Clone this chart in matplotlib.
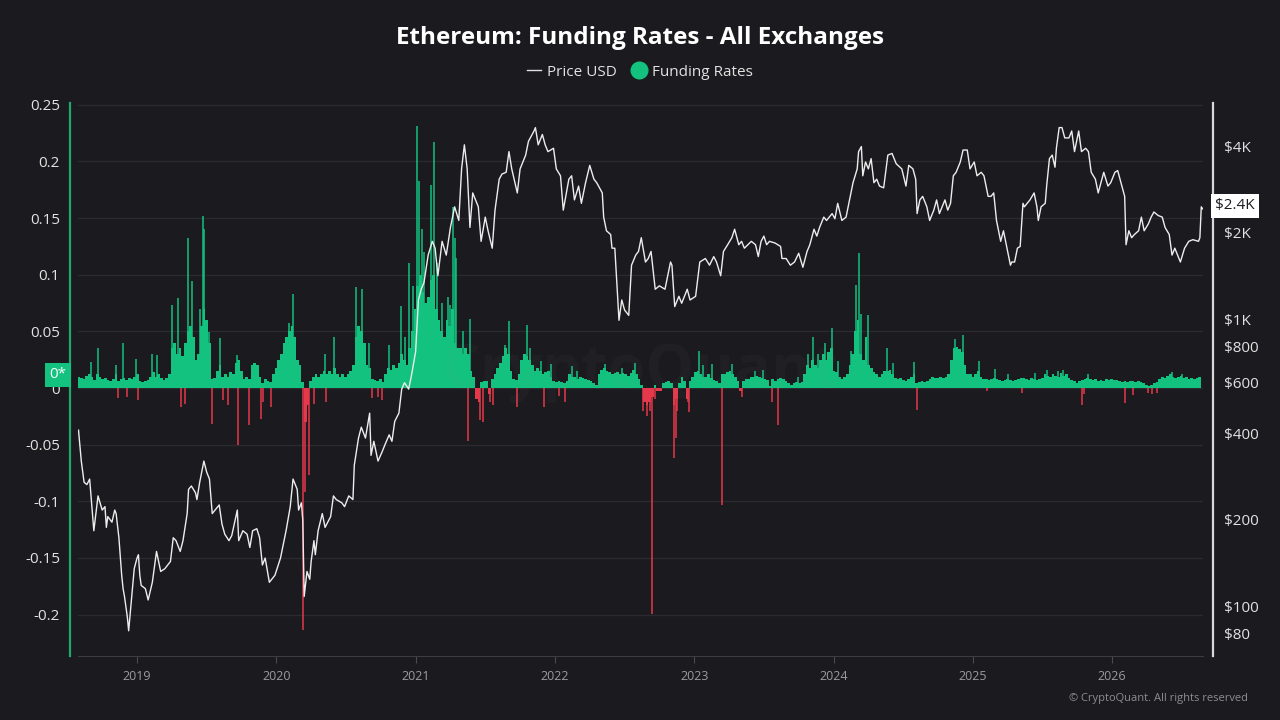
import matplotlib
matplotlib.use('Agg')
import matplotlib.pyplot as plt
from matplotlib.lines import Line2D
from matplotlib.ticker import NullLocator
import numpy as np

plt.rcParams['font.family'] = ['Open Sans', 'DejaVu Sans']

# ETH price (USD), decimal years
price_t = [
    2018.58, 2018.60, 2018.62, 2018.64, 2018.66, 2018.69, 2018.72, 2018.75, 2018.77, 2018.78,
    2018.79, 2018.82, 2018.84, 2018.85, 2018.87, 2018.89, 2018.90, 2018.91, 2018.93, 2018.94,
    2018.96, 2018.98, 2019.00, 2019.01, 2019.02, 2019.03, 2019.06, 2019.08, 2019.11, 2019.13,
    2019.14, 2019.17, 2019.20, 2019.24, 2019.26, 2019.28, 2019.31, 2019.33, 2019.36, 2019.37,
    2019.39, 2019.42, 2019.43, 2019.45, 2019.48, 2019.50, 2019.52, 2019.54, 2019.56, 2019.59,
    2019.61, 2019.63, 2019.66, 2019.68, 2019.72, 2019.73, 2019.76, 2019.79, 2019.81, 2019.83,
    2019.86, 2019.88, 2019.90, 2019.92, 2019.95, 2019.99, 2020.03, 2020.05, 2020.07, 2020.10,
    2020.12, 2020.15, 2020.16, 2020.18, 2020.19, 2020.20, 2020.22, 2020.24, 2020.25, 2020.27,
    2020.28, 2020.30, 2020.33, 2020.35, 2020.39, 2020.41, 2020.43, 2020.47, 2020.49, 2020.52,
    2020.55, 2020.56, 2020.59, 2020.61, 2020.64, 2020.67, 2020.68, 2020.70, 2020.73, 2020.76,
    2020.78, 2020.81, 2020.83, 2020.85, 2020.88, 2020.90, 2020.92, 2020.95, 2020.97, 2021.00,
    2021.02, 2021.04, 2021.06, 2021.09, 2021.12, 2021.14, 2021.16, 2021.19, 2021.22, 2021.25,
    2021.28, 2021.31, 2021.33, 2021.35, 2021.37, 2021.39, 2021.41, 2021.45, 2021.47, 2021.50,
    2021.52, 2021.55, 2021.57, 2021.60, 2021.62, 2021.65, 2021.67, 2021.69, 2021.73, 2021.75,
    2021.79, 2021.81, 2021.85, 2021.86, 2021.88, 2021.91, 2021.93, 2021.95, 2021.99, 2022.01,
    2022.04, 2022.06, 2022.10, 2022.12, 2022.14, 2022.17, 2022.19, 2022.22, 2022.25, 2022.28,
    2022.30, 2022.34, 2022.35, 2022.37, 2022.40, 2022.41, 2022.43, 2022.45, 2022.46, 2022.48,
    2022.50, 2022.53, 2022.55, 2022.58, 2022.60, 2022.62, 2022.65, 2022.67, 2022.69, 2022.72,
    2022.75, 2022.79, 2022.83, 2022.84, 2022.86, 2022.89, 2022.91, 2022.95, 2022.97, 2023.01,
    2023.04, 2023.08, 2023.11, 2023.14, 2023.16, 2023.19, 2023.21, 2023.24, 2023.27, 2023.29,
    2023.32, 2023.34, 2023.36, 2023.41, 2023.44, 2023.46, 2023.48, 2023.50, 2023.52, 2023.54,
    2023.58, 2023.62, 2023.63, 2023.66, 2023.69, 2023.72, 2023.75, 2023.78, 2023.81, 2023.83,
    2023.86, 2023.88, 2023.90, 2023.93, 2023.95, 2023.99, 2024.01, 2024.03, 2024.06, 2024.09,
    2024.12, 2024.14, 2024.17, 2024.18, 2024.20, 2024.21, 2024.23, 2024.25, 2024.27, 2024.29,
    2024.31, 2024.33, 2024.36, 2024.39, 2024.42, 2024.45, 2024.49, 2024.52, 2024.54, 2024.57,
    2024.59, 2024.60, 2024.62, 2024.64, 2024.67, 2024.69, 2024.72, 2024.74, 2024.76, 2024.80,
    2024.82, 2024.84, 2024.86, 2024.88, 2024.91, 2024.93, 2024.96, 2024.98, 2025.01, 2025.03,
    2025.06, 2025.08, 2025.11, 2025.13, 2025.15, 2025.17, 2025.20, 2025.22, 2025.24, 2025.27,
    2025.28, 2025.30, 2025.32, 2025.34, 2025.36, 2025.37, 2025.41, 2025.44, 2025.46, 2025.47,
    2025.49, 2025.52, 2025.53, 2025.55, 2025.57, 2025.59, 2025.60, 2025.62, 2025.64, 2025.66,
    2025.69, 2025.71, 2025.73, 2025.76, 2025.78, 2025.81, 2025.83, 2025.85, 2025.88, 2025.90,
    2025.92, 2025.94, 2025.97, 2025.99, 2026.02, 2026.04, 2026.07, 2026.09, 2026.10, 2026.12,
    2026.14, 2026.16, 2026.19, 2026.21, 2026.23, 2026.26, 2026.28, 2026.30, 2026.33, 2026.36,
    2026.38, 2026.41, 2026.43, 2026.45, 2026.47, 2026.49, 2026.52, 2026.55, 2026.58, 2026.62,
    2026.63, 2026.64, 2026.65,
]
price_usd = [
    410, 320, 270, 265, 277, 183, 242, 216, 222, 188,
    205, 196, 216, 210, 173, 128, 115, 108, 92, 82,
    105, 135, 147, 151, 128, 118, 115, 105, 121, 143,
    155, 132, 135, 143, 173, 169, 155, 169, 210, 255,
    262, 248, 235, 270, 320, 293, 277, 210, 216, 225,
    193, 178, 169, 176, 216, 169, 183, 178, 160, 183,
    186, 173, 139, 147, 121, 128, 147, 164, 183, 222,
    277, 255, 216, 229, 199, 108, 132, 124, 143, 169,
    151, 183, 210, 188, 205, 242, 235, 229, 222, 242,
    235, 310, 385, 420, 385, 470, 335, 375, 320, 345,
    365, 395, 375, 440, 470, 570, 600, 570, 635, 770,
    1165, 1270, 1340, 1670, 1865, 1765, 1415, 1865, 1670, 2085,
    2460, 2205, 3335, 4045, 3335, 2085, 2750, 2460, 1865, 2265,
    2030, 1765, 2395, 3070, 3200, 3245, 3830, 3335, 2750, 3335,
    3725, 4160, 4520, 4645, 4045, 4395, 4045, 3830, 3935, 3335,
    3155, 2395, 3070, 3155, 2600, 2905, 2530, 2985, 3430, 3070,
    2985, 2750, 2265, 2030, 1970, 1765, 1765, 1200, 990, 1165,
    1075, 1030, 1540, 1670, 1720, 1920, 1580, 1625, 1720, 1270,
    1305, 1270, 1580, 1540, 1105, 1200, 1135, 1270, 1165, 1200,
    1580, 1625, 1540, 1650, 1580, 1415, 1720, 1815, 1920, 2055,
    1815, 1865, 1765, 1865, 1815, 1650, 1865, 1945, 1815, 1865,
    1840, 1790, 1625, 1625, 1540, 1580, 1695, 1515, 1720, 1815,
    2055, 1945, 2085, 2265, 2205, 2330, 2235, 2530, 2205, 2265,
    2675, 2985, 3335, 3830, 3990, 3155, 3525, 3335, 3620, 2985,
    3070, 2905, 2865, 3725, 3775, 3475, 3335, 2905, 3430, 3335,
    3070, 2330, 2600, 2675, 2460, 2205, 2395, 2600, 2330, 2600,
    2395, 2530, 3155, 3245, 3525, 3880, 3880, 3335, 3525, 3155,
    3245, 3155, 2675, 2675, 2750, 2205, 1865, 2030, 1815, 1540,
    1580, 1580, 1765, 1790, 2530, 2460, 2600, 2750, 2460, 2205,
    2460, 2530, 2905, 3620, 3725, 3380, 3935, 4645, 4645, 4275,
    4275, 4520, 3830, 4520, 3830, 3935, 3830, 3245, 3070, 2750,
    2985, 3245, 2905, 2985, 3245, 3290, 2905, 2675, 1815, 2030,
    1920, 1970, 2030, 2265, 2030, 2145, 2265, 2360, 2295, 2265,
    2085, 1970, 1670, 1765, 1670, 1580, 1765, 1865, 1890, 1865,
    1920, 2460, 2420,
]

# funding rate, weekly typical level from 2018.58 on
funding_start = 2018.58
funding_weekly = [
    0.010, 0.009, 0.008, 0.011, 0.012, 0.010, 0.007, 0.012, 0.010, 0.008,
    0.009, 0.007, 0.006, 0.008, 0.012, 0.006, 0.008, 0.009, 0.007, 0.009,
    0.008, 0.010, 0.012, 0.006, 0.005, 0.006, 0.007, 0.010, 0.014, 0.010,
    0.012, 0.009, 0.007, 0.009, 0.012, 0.035, 0.040, 0.030, 0.035, 0.028,
    0.040, 0.050, 0.055, 0.045, 0.025, 0.030, 0.055, 0.070, 0.060, 0.040,
    0.008, 0.009, 0.015, 0.020, 0.010, 0.012, 0.010, 0.014, 0.012, 0.022,
    0.025, 0.015, 0.008, 0.010, 0.008, 0.020, 0.022, 0.020, 0.010, 0.004,
    0.008,
    0.006, 0.005, 0.012, 0.018, 0.025, 0.030, 0.040, 0.045, 0.050, 0.055,
    0.045, 0.025, 0.020, 0.005, -0.030, -0.015, 0.006, 0.010, 0.012, 0.010,
    0.012, 0.015, 0.012, 0.015, 0.012, 0.018, 0.012, 0.010, 0.012, 0.010,
    0.012, 0.015, 0.020, 0.045, 0.055, 0.050, 0.040, 0.020, 0.018, 0.008,
    0.007, 0.006, 0.008, 0.005, 0.012, 0.018, 0.016, 0.020, 0.018, 0.022,
    0.030, 0.025, 0.020, 0.035, 0.050, 0.070, 0.090, 0.100, 0.085, 0.075,
    0.080, 0.095, 0.100, 0.070, 0.060, 0.050, 0.045, 0.060, 0.055, 0.070,
    0.040, 0.035, 0.035, 0.030, 0.035, 0.030, 0.015, 0.010, -0.010, -0.012,
    0.005, 0.006, 0.006, -0.005, 0.008, 0.012, 0.018, 0.022, 0.028, 0.035,
    0.030, 0.015, 0.008, 0.007, 0.012, 0.025, 0.030, 0.028, 0.025, 0.020,
    0.015, 0.018, 0.015, 0.012, 0.014, 0.015, 0.010, 0.006, 0.005, 0.006,
    0.005, 0.004, 0.006, 0.012, 0.010, 0.010, 0.008, 0.010, 0.009, 0.008,
    0.007, 0.006, 0.004, 0.003, 0.012, 0.016, 0.018, 0.015, 0.014, 0.012,
    0.013, 0.014, 0.012, 0.013, 0.012, 0.011, 0.013, 0.016, 0.012, 0.008,
    0.003,
    -0.012, -0.015, -0.012, -0.008, 0.003, -0.003, -0.003, 0.004, 0.005, 0.006,
    0.004, -0.015, -0.010, 0.004, 0.010, 0.006, -0.010, 0.006, 0.010, 0.014,
    0.015, 0.012, 0.010, 0.010, 0.012, 0.009, 0.007, 0.006, 0.004, 0.012,
    0.012, 0.014, 0.015, 0.012, 0.010, 0.006, -0.003, 0.006, 0.008, 0.008,
    0.010, 0.010, 0.011, 0.010, 0.009, 0.008, 0.007, 0.002, 0.008, 0.006,
    0.008, 0.009, 0.008, 0.006, 0.004, 0.003, 0.004, 0.005, 0.004, 0.005,
    0.012, 0.020, 0.018, 0.025, 0.020, 0.018, 0.025, 0.030, 0.025, 0.032,
    0.035,
    0.015, 0.014, 0.010, 0.008, 0.010, 0.012, 0.020, 0.030, 0.050, 0.060,
    0.030, 0.025, 0.045, 0.020, 0.018, 0.014, 0.012, 0.010, 0.012, 0.015,
    0.015, 0.016, 0.012, 0.009, 0.008, 0.009, 0.007, 0.006, 0.008, 0.010,
    0.012, 0.004, 0.005, 0.006, 0.005, 0.006, 0.008, 0.010, 0.009, 0.009,
    0.010, 0.009, 0.010, 0.012, 0.025, 0.035, 0.036, 0.034, 0.032, 0.020,
    0.012, 0.012, 0.010, 0.012, 0.015, 0.010, 0.008, 0.008, 0.007, 0.008,
    0.009, 0.008, 0.007, 0.006, 0.007, 0.008, 0.007, 0.006, 0.007, 0.008,
    0.009,
    0.009, 0.008, 0.007, 0.009, 0.008, 0.007, 0.008, 0.009, 0.012, 0.011,
    0.010, 0.012, 0.011, 0.010, 0.013, 0.011, 0.012, 0.009, 0.007, 0.006,
    0.004, 0.006, 0.007, 0.008, 0.009, 0.008, 0.007, 0.008, 0.006, 0.007,
    0.006, 0.008, 0.007, 0.008, 0.007, 0.007, 0.006, 0.005, 0.006, 0.005,
    0.006, 0.006, 0.005, 0.006, 0.005, 0.004, 0.003, 0.002, 0.003, 0.004,
    0.005, 0.008, 0.010, 0.009, 0.011, 0.012, 0.010, 0.009, 0.010, 0.011,
    0.009, 0.010, 0.008, 0.009, 0.008, 0.009, 0.010,
]

# single-day funding spikes
spike_t = [
    2018.667, 2018.718, 2018.847, 2018.897, 2018.993, 2019.105, 2019.146, 2019.254,
    2019.297, 2019.369, 2019.397, 2019.452, 2019.472, 2019.484, 2019.517, 2019.596,
    2019.716, 2019.847, 2018.866, 2018.931, 2019.010, 2019.316, 2019.345, 2019.536,
    2019.620, 2019.656, 2019.728, 2019.807, 2019.890, 2019.907,
    2019.960, 2020.091, 2020.120, 2020.194, 2020.206, 2020.232, 2020.273, 2020.350,
    2020.357, 2020.417, 2020.572, 2020.618, 2020.668, 2020.685, 2020.728, 2020.757,
    2020.809, 2020.895, 2020.924, 2020.955, 2020.979, 2021.008, 2021.027, 2021.044,
    2021.063, 2021.108, 2021.132, 2021.151, 2021.187, 2021.230, 2021.247, 2021.271,
    2021.283, 2021.290, 2021.343, 2021.379, 2021.391, 2021.462, 2021.486, 2021.534,
    2021.558, 2021.642, 2021.673, 2021.731, 2021.802, 2021.821, 2021.900, 2021.924,
    2021.972, 2022.030, 2022.073, 2022.121, 2022.156, 2022.360, 2022.480, 2022.575,
    2022.635,
    2022.659, 2022.683, 2022.700, 2022.719, 2022.858, 2022.870, 2022.879, 2022.953,
    2022.965, 2023.037, 2023.066, 2023.126, 2023.197, 2023.274, 2023.346, 2023.437,
    2023.497, 2023.556, 2023.604, 2023.743, 2023.815, 2023.855, 2023.891, 2023.939,
    2023.987,
    2024.030, 2024.126, 2024.164, 2024.181, 2024.195, 2024.250, 2024.387, 2024.430,
    2024.581, 2024.602, 2024.873, 2024.932, 2025.047, 2025.100, 2025.160, 2025.255,
    2025.351,
    2025.447, 2025.531, 2025.614, 2025.650, 2025.782, 2025.801, 2025.830, 2026.093,
    2026.153, 2026.260, 2026.289, 2026.320, 2026.428, 2026.500,
]
spike_rate = [
    0.023, 0.035, 0.020, 0.040, 0.026, 0.030, 0.029, 0.073,
    0.079, 0.132, 0.094, 0.070, 0.152, 0.140, 0.049, 0.044,
    0.029, 0.020, -0.009, -0.008, -0.011, -0.017, -0.014, -0.032,
    -0.011, -0.015, -0.050, -0.033, -0.027, -0.012,
    -0.017, 0.057, 0.083, -0.214, -0.092, -0.077, -0.014, 0.030,
    -0.012, 0.045, 0.089, 0.087, 0.040, -0.009, -0.008, -0.011,
    0.038, 0.072, 0.045, 0.110, 0.090, 0.231, 0.183, 0.140,
    0.120, 0.179, 0.217, 0.110, 0.075, 0.080, 0.073, 0.160,
    0.132, 0.115, 0.050, -0.047, 0.061, -0.028, -0.030, -0.012,
    -0.015, 0.038, 0.059, -0.017, 0.056, 0.035, 0.024, -0.017,
    0.021, -0.007, -0.012, 0.019, 0.015, 0.021, 0.018, 0.022,
    -0.020,
    -0.025, -0.020, -0.199, -0.010, -0.062, -0.044, -0.020, -0.012,
    -0.021, 0.033, 0.020, 0.021, -0.103, 0.021, -0.008, 0.015,
    0.016, -0.012, -0.033, 0.010, 0.030, 0.045, 0.030, 0.040,
    0.053,
    0.024, 0.033, 0.091, 0.119, 0.065, 0.064, 0.035, 0.022,
    0.023, -0.019, 0.043, 0.047, 0.024, -0.003, 0.017, 0.012,
    -0.004,
    0.013, 0.016, 0.015, 0.016, -0.015, -0.005, 0.012, -0.013,
    -0.006, -0.004, -0.005, -0.004, 0.014, 0.012,
]

year_ticks = [2019, 2020, 2021, 2022, 2023, 2024, 2025, 2026]
rate_ticks = [0.25, 0.2, 0.15, 0.1, 0.05, 0, -0.05, -0.1, -0.15, -0.2]
rate_labels = ['0.25', '0.2', '0.15', '0.1', '0.05', '0', '-0.05', '-0.1', '-0.15', '-0.2']
price_ticks = [80, 100, 200, 400, 600, 800, 1000, 2000, 4000]
price_labels = ['$80', '$100', '$200', '$400', '$600', '$800', '$1K', '$2K', '$4K']

BG = '#1b1b1f'
GREEN = '#13c27f'
RED = '#e6384b'
week = 7 / 365.25

fig = plt.figure(figsize=(12.8, 7.2), dpi=100, facecolor=BG)
ax = fig.add_axes([0.0609, 0.0889, 0.8789, 0.768])
ax.set_facecolor(BG)

wk_t = funding_start + np.arange(len(funding_weekly)) * week
fw = np.array(funding_weekly)
ax.bar(wk_t, fw, width=week, color=np.where(fw >= 0, GREEN, RED), linewidth=0, zorder=2)
sv = np.array(spike_rate)
ax.vlines(spike_t, 0, sv, colors=np.where(sv >= 0, GREEN, RED), linewidth=1.1, zorder=2)

ax.set_xlim(2018.576, 2026.652)
ax.set_ylim(-0.2365, 0.2515)
ax.set_yticks(rate_ticks)
ax.set_yticklabels(rate_labels)
ax.set_xticks(year_ticks)
ax.set_xticklabels([str(y) for y in year_ticks])
ax.grid(axis='y', color='#2a2a30', linewidth=0.9, zorder=0)
ax.set_axisbelow(True)
ax.tick_params(axis='y', length=0, pad=7, labelsize=11, labelcolor='#e2e2e2')
ax.tick_params(axis='x', length=5, color='#4a4a50', pad=5, labelsize=9, labelcolor='#9a9aa0')

for s in ['top', 'right']:
    ax.spines[s].set_visible(False)
ax.spines['left'].set_position(('outward', 6))
ax.spines['left'].set_color('#1fa86f')
ax.spines['left'].set_linewidth(1.6)
ax.spines['bottom'].set_color('#3c3c42')

ax2 = ax.twinx()
ax2.set_yscale('log')
ax2.plot(price_t, price_usd, color='#ededed', linewidth=1.0, zorder=3)
ax2.set_ylim(67, 5656)
ax2.set_yticks(price_ticks)
ax2.set_yticklabels(price_labels)
ax2.yaxis.set_minor_locator(NullLocator())
ax2.tick_params(axis='y', length=0, pad=8, labelsize=11, labelcolor='#e2e2e2')
for s in ['top', 'left', 'bottom']:
    ax2.spines[s].set_visible(False)
ax2.spines['right'].set_position(('outward', 7))
ax2.spines['right'].set_color('#d8d8d8')
ax2.spines['right'].set_linewidth(1.6)

# current-value markers on both axes
fig.text(58 / 1280, 1 - 375 / 720, '0*', ha='center', va='center', color='white', fontsize=11,
         bbox=dict(boxstyle='square,pad=0.3', fc=GREEN, ec='none'))
fig.text(1235 / 1280, 1 - 206 / 720, '$2.4K', ha='center', va='center', color='#1b1b1f', fontsize=11,
         bbox=dict(boxstyle='square,pad=0.3', fc='white', ec='none'))

# watermark
fig.text(0.5, 1 - 372 / 720, 'CryptoQuant', ha='center', va='center', fontsize=44,
         fontweight='bold', color='#9a9a9a', alpha=0.045, zorder=10)

fig.text(0.5, 1 - 38 / 720, 'Ethereum: Funding Rates - All Exchanges', ha='center', va='center',
         fontsize=17.5, fontweight='bold', color='white')

handles = [Line2D([], [], color='#e2e2e2', linewidth=1.0),
           Line2D([], [], color=GREEN, marker='o', linestyle='none', markersize=12)]
fig.legend(handles, ['Price USD', 'Funding Rates'], loc='center', bbox_to_anchor=(0.5, 1 - 72 / 720),
           ncol=2, frameon=False, labelcolor='#e2e2e2', fontsize=11, handlelength=0.9,
           handletextpad=0.4, columnspacing=1.0)

fig.text(1248 / 1280, 1 - 698 / 720, '\u00a9 CryptoQuant. All rights reserved', ha='right', va='center',
         color='#8c8c92', fontsize=8)

fig.savefig('out.png', dpi=100, facecolor=BG)
